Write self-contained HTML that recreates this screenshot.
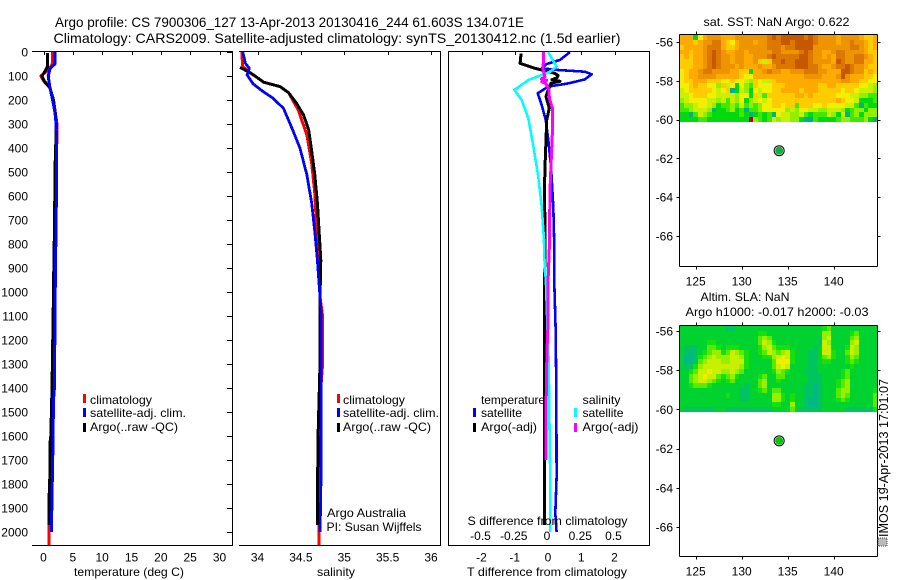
<!DOCTYPE html>
<html>
<head>
<meta charset="utf-8">
<title>Argo profile</title>
<style>
html,body{margin:0;padding:0;background:#fff;}
svg{display:block;font-family:"Liberation Sans",sans-serif;font-size:12px;fill:#000;}
text{fill:#000;}
</style>
</head>
<body>
<svg id="chart" width="900" height="580" viewBox="0 0 900 580" xmlns="http://www.w3.org/2000/svg">
<rect x="0" y="0" width="900" height="580" fill="#fff"/>
<g id="maps"></g>
<g id="axes"></g>
<g id="lines"></g>
<g id="ticklabels"></g>

<text x="55" y="27" font-size="14" textLength="469" lengthAdjust="spacingAndGlyphs">Argo profile: CS 7900306_127 13-Apr-2013 20130416_244 61.603S 134.071E</text>
<text x="53.5" y="43" font-size="14" textLength="567" lengthAdjust="spacingAndGlyphs">Climatology: CARS2009. Satellite-adjusted climatology: synTS_20130412.nc (1.5d earlier)</text>

<text x="74" y="576" textLength="110" lengthAdjust="spacingAndGlyphs">temperature (deg C)</text>
<text x="317" y="576" textLength="38" lengthAdjust="spacingAndGlyphs">salinity</text>
<text x="467" y="576" textLength="160" lengthAdjust="spacingAndGlyphs">T difference from climatology</text>
<text x="467.5" y="525" textLength="160" lengthAdjust="spacingAndGlyphs">S difference from climatology</text>

<g>
<rect x="83" y="394" width="3" height="9" fill="#f00"/>
<rect x="83" y="408" width="3" height="9" fill="#00f"/>
<rect x="83" y="423" width="3" height="9" fill="#000"/>
<text x="90" y="404" textLength="62" lengthAdjust="spacingAndGlyphs">climatology</text>
<text x="90" y="417" textLength="96" lengthAdjust="spacingAndGlyphs">satellite-adj. clim.</text>
<text x="90" y="431" textLength="88" lengthAdjust="spacingAndGlyphs">Argo(..raw -QC)</text>
</g>
<g>
<rect x="337" y="394" width="3" height="9" fill="#f00"/>
<rect x="337" y="408" width="3" height="9" fill="#00f"/>
<rect x="337" y="423" width="3" height="9" fill="#000"/>
<text x="343" y="404" textLength="62" lengthAdjust="spacingAndGlyphs">climatology</text>
<text x="343" y="417" textLength="96" lengthAdjust="spacingAndGlyphs">satellite-adj. clim.</text>
<text x="343" y="431" textLength="88" lengthAdjust="spacingAndGlyphs">Argo(..raw -QC)</text>
</g>
<g>
<text x="481" y="404" textLength="64" lengthAdjust="spacingAndGlyphs">temperature</text>
<rect x="473" y="408" width="3" height="9" fill="#00f"/>
<rect x="473" y="423" width="3" height="9" fill="#000"/>
<text x="481" y="417" textLength="41" lengthAdjust="spacingAndGlyphs">satellite</text>
<text x="481" y="431" textLength="56" lengthAdjust="spacingAndGlyphs">Argo(-adj)</text>
<text x="582.5" y="404" textLength="38" lengthAdjust="spacingAndGlyphs">salinity</text>
<rect x="574" y="408" width="3" height="9" fill="#0ff"/>
<rect x="574" y="423" width="3" height="9" fill="#f0f"/>
<text x="582.5" y="417" textLength="41" lengthAdjust="spacingAndGlyphs">satellite</text>
<text x="582.5" y="431" textLength="56" lengthAdjust="spacingAndGlyphs">Argo(-adj)</text>
</g>

<text x="327" y="517" textLength="79" lengthAdjust="spacingAndGlyphs">Argo Australia</text>
<text x="326.5" y="531" textLength="95" lengthAdjust="spacingAndGlyphs">PI: Susan Wijffels</text>

<text x="703.5" y="26" textLength="146" lengthAdjust="spacingAndGlyphs">sat. SST: NaN Argo: 0.622</text>
<text x="700.5" y="301" textLength="89" lengthAdjust="spacingAndGlyphs">Altim. SLA: NaN</text>
<text x="685.5" y="316" textLength="183" lengthAdjust="spacingAndGlyphs">Argo h1000: -0.017 h2000: -0.03</text>

<g>
<rect x="878" y="538" width="9" height="8" fill="#bbb" stroke="#444" stroke-width="1" stroke-dasharray="1 1"/>
<text transform="translate(888 537) rotate(-90)" textLength="158" lengthAdjust="spacingAndGlyphs" font-size="13">IMOS 19-Apr-2013 17:01:07</text>
</g>
</svg>

<script>
// ---------- profile data ----------
const tClimDepth = [0,50,70,100,120,150,200,300,340,500,800,1100,1400,1700,1970,2054];
const tClimValue = [1.55,1.5,1.0,-0.45,0.0,1.1,1.7,2.3,2.3,2.15,1.95,1.8,1.5,1.2,0.95,0.95];
const tArgoDepth = [5,60,75,90,100,120,150,200,250,300,500,760,800,1000,1400,1500,1600,1620,1800,1850,1970];
const tArgoValue = [0.7,0.7,0.4,0.0,-0.25,0.1,1.1,1.7,2.0,2.2,1.95,1.9,1.8,1.7,1.45,1.35,1.25,1.15,1.05,0.95,0.95];
const tSatDepth = [0,50,70,100,150,200,250,300,400,600,1000,1400,1450,1650,1850,2000];
const tSatValue = [2.0,1.95,1.1,0.8,1.1,1.55,1.95,2.15,2.25,2.2,2.0,1.85,1.7,1.6,1.45,1.35];

const sClimDepth = [0,12,61,85,110,126,144,170,242,346,464,589,721,838,1020,1100,1300,1400,1970,2054];
const sClimValue = [33.82,33.82,33.83,33.91,34.01,34.07,34.26,34.36,34.47,34.57,34.625,34.66,34.68,34.70,34.72,34.75,34.75,34.73,34.71,34.71];
const sSatDepth = [1,47,68,96,133,161,193,235,311,401,512,630,749,867,1020,1100,1500,1850,2000];
const sSatValue = [33.83,33.86,33.905,33.88,33.95,34.05,34.18,34.30,34.39,34.49,34.57,34.625,34.66,34.69,34.72,34.735,34.735,34.73,34.72];
const sArgoDepth = [64,85,110,126,144,170,214,262,325,401,512,630,749,867,1020,1300,1580,1850,1970];
const sArgoValue = [33.80,33.91,34.01,34.07,34.26,34.36,34.45,34.53,34.59,34.62,34.66,34.69,34.71,34.73,34.72,34.72,34.70,34.69,34.69];

const dTSatDepth = [1,33,50,68,75,82,93,114,131,144,172,221,283,367,478,645,811,963,1150,1400,1770,1923,2000];
const dTSatValue = [0.66,0.36,-0.04,-0.19,0.3,1.11,1.31,1.11,0.61,0.01,-0.31,-0.19,-0.07,0.01,0.09,0.16,0.19,0.19,0.23,0.25,0.26,0.22,0.26];
const dTArgoDepth = [6,47,68,89,98,108,115,122,130,158,186,235,283,367,478,603,700,825,1100,1970];
const dTArgoValue = [-0.81,-0.84,-0.39,0.21,0.3,0.27,0.12,0.36,0.09,0.01,-0.06,0.04,-0.04,-0.06,-0.09,-0.11,-0.09,-0.09,-0.11,-0.11];
const dSSatDepth = [0,61,82,117,158,200,276,394,519,645,783,853,963,1130,1296,1505,1783,2000];
const dSSatValue = [0,0.065,0.015,-0.148,-0.253,-0.198,-0.148,-0.11,-0.073,-0.047,-0.03,-0.028,-0.015,-0.005,0.005,0.01,0.017,0.017];
const dSArgoDepth = [0,47,68,103,112,118,124,130,137,158,192,233,344,464,575,672,817,963,1130,1254,1505,1700];
const dSArgoValue = [-0.035,-0.035,-0.04,-0.023,-0.05,-0.01,-0.047,-0.02,-0.01,0.008,0.01,0.032,0.032,0.023,0.015,0.013,0.01,0,0,-0.008,-0.015,-0.015];

// ---------- tick labels ----------
const depthTicks = [0,100,200,300,400,500,600,700,800,900,1000,1100,1200,1300,1400,1500,1600,1700,1800,1900,2000];
const tempTicks = [0,5,10,15,20,25,30];
const salTicks = [34,34.5,35,35.5,36];
const dTTicks = [-2,-1,0,1,2];
const dSTicks = [-0.5,-0.25,0,0.25,0.5];
const lonTicks = [125,130,135,140];
const latTicks = [-56,-58,-60,-62,-64,-66];

// ---------- map grids (one character per cell) ----------
const sstRows = [
"7771578887 7788888889 a9aaaaa9a9 8888788887 667",
"7776788997 6578887889 99aa9aaaa9 8888788988 767",
"6777789997 6678888889 99899aaaa8 8888888998 767",
"7767789a98 7788788888 9988889a98 8778998888 766",
"6767789a98 8788778889 a99999aa98 8787998899 876",
"6667789a98 8788778646 99a99aaa98 8887a98899 776",
"6667789a98 8878777877 89999aaa99 877899a988 766",
"5677899888 8776617789 8877888999 88777aa988 676",
"5677888877 7776557777 7777777888 87778a8777 665",
"5667776665 5655436544 6777777777 7777788776 655",
"5567665536 4515326555 6667777777 6677666665 543",
"4566666545 6014315455 6677776777 6666656654 443",
"4456665544 4435516426 6666677676 6666555443 322",
"3455554434 2435134545 6666666666 6666765541 112",
"2334554312 2324232355 6656626665 5655554420 211",
"2234443011 2312022355 5553435544 3344431233 133",
"1102432111 1112101212 0544334212 2243140231 333",
"1111221111 11111r3212 4344331002 1111233222 310"
];
const slaRows = [
"2222222222 1122222222 2222222222 2342222222 222",
"2222222222 2222222332 2222222222 2552222342 222",
"2222222222 2222222454 2222222222 1562222452 222",
"2222223322 2222222465 3222222222 1652222562 222",
"2111224432 3332222356 4333222221 2662223652 222",
"2101234553 4654322346 5456322211 2663224652 222",
"2001345655 5665322233 5676322211 2453223542 222",
"2001456665 5666322222 4777322211 2332223432 222",
"2113566666 6665322222 4676222211 2222222322 222",
"2234667665 5654222222 3543222111 2222234222 222",
"2245676643 4532222342 2442222211 1222234222 222",
"2245665432 3422222452 2322222211 1222345222 222",
"2234443222 2222122452 2222222110 1222345222 222",
"2222222222 2221122342 4422222110 1222455222 223",
"2222222222 3221122222 5532322110 1222454222 224",
"2222222222 2221122222 5532322100 1222343222 224",
"2222222222 2222222222 3322522100 1222222222 224",
"2111111122 1111111111 2222421111 1222221111 113"
];
const sstColors = {'0':'#00b08a','1':'#00d810','2':'#40e800','3':'#90f000','4':'#c8f000','5':'#f0f000','6':'#ffcc00','7':'#ffaa00','8':'#ee9400','9':'#dc7800','a':'#c85800','r':'#c00010'};
const slaColors = {'0':'#00b888','1':'#00c460','2':'#00d230','3':'#18e010','4':'#58ea00','5':'#98f000','6':'#c8f000','7':'#eef000'};
const argoLon = 134.071;
const argoLat = -61.603;

// ---------- scales ----------
const yDepth = d => 52 + d * 0.24;
const xTemp = v => 43.5 + v * 5.867;
const xSal = v => 257.5 + (v - 34) * 86.75;
const xDT = v => 548 + v * 33.25;
const xDS = v => 548 + v * 133;
const xLon = v => 695.7 + (v - 125) * 9.2;
const yLat1 = v => 42 + (-56 - v) * 19.4;
const yLat2 = v => 331 + (-56 - v) * 19.6;

const NS = 'http://www.w3.org/2000/svg';
function mk(parent, tag, attrs, txt) {
  const el = document.createElementNS(NS, tag);
  for (const k in attrs) el.setAttribute(k, attrs[k]);
  if (txt !== undefined) el.textContent = txt;
  parent.appendChild(el);
  return el;
}
const mapsG = document.getElementById('maps');
const axesG = document.getElementById('axes');
const linesG = document.getElementById('lines');
const labelsG = document.getElementById('ticklabels');

function seg(x1, y1, x2, y2, name) {
  const el = mk(axesG, 'line', {x1: x1, y1: y1, x2: x2, y2: y2, stroke: '#000', 'stroke-width': 1, 'shape-rendering': 'crispEdges'});
  
  
}
function label(x, y, s, anchor, name) {
  const el = mk(labelsG, 'text', {x: x, y: y + 0.5, 'text-anchor': anchor, 'dominant-baseline': 'central'}, s);
  
  
}
function profile(depths, values, xf, color, name, w) {
  const pts = depths.map((d, i) => xf(values[i]).toFixed(1) + ',' + yDepth(d).toFixed(1)).join(' ');
  const el = mk(linesG, 'polyline', {points: pts, fill: 'none', stroke: color, 'stroke-width': w, 'stroke-linejoin': 'round', 'shape-rendering': 'crispEdges'});
  
  
}

// ---------- profile panel frames ----------
seg(32, 51.5, 233, 51.5, 'temperature-top-spine');
seg(232.5, 51.5, 232.5, 545.5, 'temperature-right-spine');
seg(32, 545.5, 233, 545.5, 'temperature-bottom-spine');
seg(239, 51.5, 441, 51.5, 'salinity-top-spine');
seg(440.5, 51.5, 440.5, 545.5, 'salinity-right-spine');
seg(239, 545.5, 441, 545.5, 'salinity-bottom-spine');
seg(448, 51.5, 650, 51.5, 'difference-top-spine');
seg(448.5, 51.5, 448.5, 545.5, 'difference-left-spine');
seg(649.5, 51.5, 649.5, 545.5, 'difference-right-spine');
seg(448, 545.5, 650, 545.5, 'difference-bottom-spine');

depthTicks.forEach(d => {
  const y = Math.round(yDepth(d)) + 0.5;
  seg(227, y, 232, y, 'depth-tick-right');
  label(28, yDepth(d), String(d), 'end', 'depth-tick-label');
});
tempTicks.forEach(v => {
  const x = Math.round(xTemp(v)) + 0.5;
  seg(x, 52, x, 55, 'temperature-tick-top');
  label(xTemp(v), 557, String(v), 'middle', 'temperature-tick-label');
});
salTicks.forEach(v => {
  const x = Math.round(xSal(v)) + 0.5;
  seg(x, 52, x, 55, 'salinity-tick-top');
  label(xSal(v), 557, String(v), 'middle', 'salinity-tick-label');
});
dTTicks.forEach(v => {
  const x = Math.round(xDT(v)) + 0.5;
  seg(x, 52, x, 55, 'difference-tick-top');
  label(xDT(v), 557, String(v), 'middle', 't-difference-tick-label');
});
dSTicks.forEach(v => {
  label(xDS(v) - 1, 535.5, String(v), 'middle', 's-difference-tick-label');
});

// ---------- profiles ----------
profile(tClimDepth, tClimValue, xTemp, '#f00', 'temperature-climatology-line', 3);
profile(tArgoDepth, tArgoValue, xTemp, '#000', 'temperature-argo-line', 3);
profile(tSatDepth, tSatValue, xTemp, '#00f', 'temperature-satellite-line', 3);

profile(sClimDepth, sClimValue, xSal, '#f00', 'salinity-climatology-line', 3);
profile(sArgoDepth, sArgoValue, xSal, '#000', 'salinity-argo-line', 3);
profile(sSatDepth, sSatValue, xSal, '#00f', 'salinity-satellite-line', 2.8);

profile(dTSatDepth, dTSatValue, xDT, '#00f', 'difference-temp-satellite-line', 2.6);
profile(dTArgoDepth, dTArgoValue, xDT, '#000', 'difference-temp-argo-line', 3);
profile(dSSatDepth, dSSatValue, xDS, '#0ff', 'difference-sal-satellite-line', 2.6);
profile(dSArgoDepth, dSArgoValue, xDS, '#f0f', 'difference-sal-argo-line', 3);

// ---------- maps ----------
function heat(rows, colors, top, bottom, name) {
  const left = 679.5, right = 877.5;
  const clean = rows.map(r => r.replace(/ /g, ''));
  const cw = (right - left) / clean[0].length;
  const ch = (bottom - top) / clean.length;
  clean.forEach((r, j) => {
    for (let i = 0; i < r.length; i++) {
      const x0 = Math.round(left + i * cw), x1 = Math.round(left + (i + 1) * cw);
      const y0 = Math.round(top + j * ch), y1 = Math.round(top + (j + 1) * ch);
      const c = mk(mapsG, 'rect', {x: x0, y: y0, width: x1 - x0, height: y1 - y0, fill: colors[r[i]], 'shape-rendering': 'crispEdges'});
      
      
    }
  });
}
heat(sstRows, sstColors, 35, 122, 'sst-cell');
heat(slaRows, slaColors, 326, 412, 'sla-cell');

function mapFrame(top, bottom, yf, dotColor, prefix) {
  seg(679.5, top, 877.5, top, prefix + '-top-spine');
  seg(679.5, bottom, 877.5, bottom, prefix + '-bottom-spine');
  seg(679.5, top, 679.5, bottom, prefix + '-left-spine');
  seg(877.5, top, 877.5, bottom, prefix + '-right-spine');
  lonTicks.forEach(v => {
    const x = Math.round(xLon(v)) + 0.5;
    seg(x, top - 3, x, top, prefix + '-lon-tick-top');
    seg(x, bottom, x, bottom + 3, prefix + '-lon-tick-bottom');
    label(xLon(v), bottom + 14.5, String(v), 'middle', prefix + '-lon-label');
  });
  latTicks.forEach(v => {
    const y = Math.round(yf(v)) + 0.5;
    seg(676.5, y, 679.5, y, prefix + '-lat-tick-left');
    seg(877.5, y, 880.5, y, prefix + '-lat-tick-right');
    label(673, yf(v), String(v), 'end', prefix + '-lat-label');
  });
  const halo = mk(axesG, 'circle', {cx: xLon(argoLon), cy: yf(argoLat), r: 5, fill: '#fff', stroke: '#000', 'stroke-width': 1});
  
  
  const dot = mk(axesG, 'circle', {cx: xLon(argoLon), cy: yf(argoLat), r: 4, fill: dotColor});
  
  
}
mapFrame(34.5, 266.5, yLat1, '#10b040', 'sst-map');
mapFrame(325.5, 556.5, yLat2, '#00c800', 'sla-map');
</script>
</body>
</html>
